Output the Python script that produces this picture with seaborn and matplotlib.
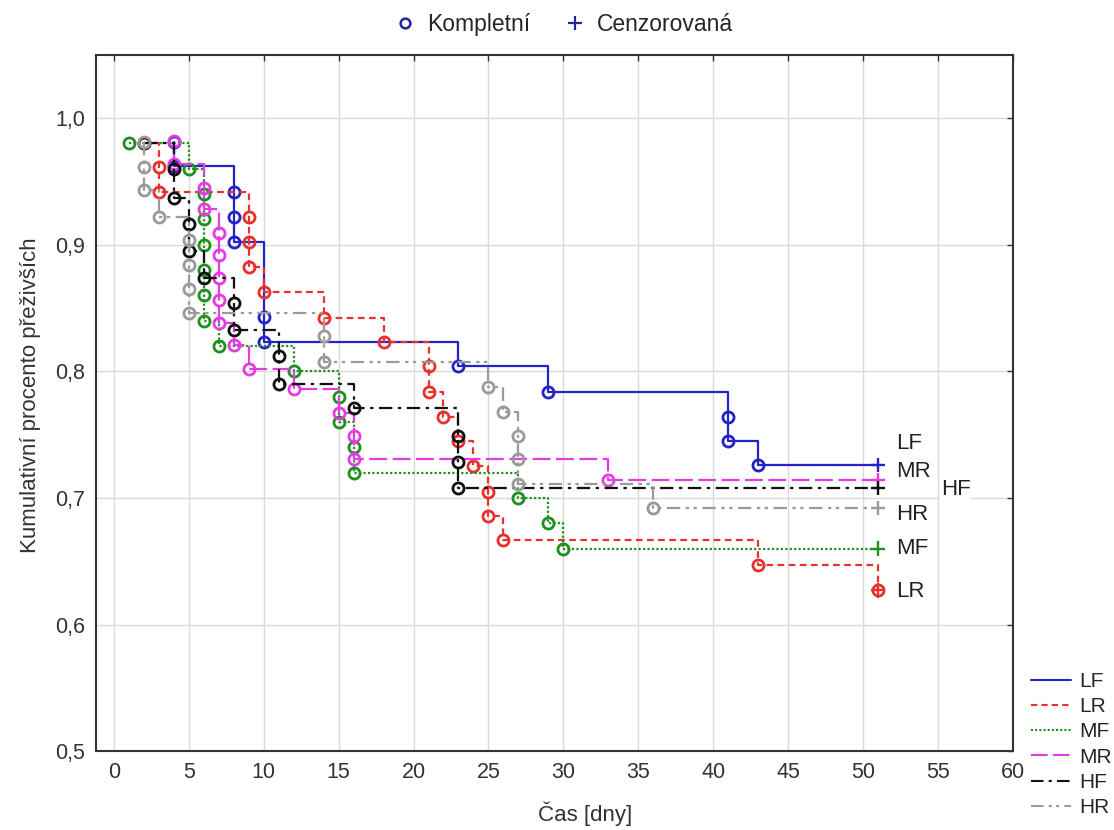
import matplotlib
matplotlib.use("Agg")
import matplotlib.pyplot as plt
from matplotlib.lines import Line2D
import seaborn as sns
import pandas as pd

groups = ["LF", "LR", "MF", "MR", "HF", "HR"]

# event times [days] and survival right after each event
lf_t = [4, 4, 8, 8, 8, 10, 10, 23, 29, 41, 41, 43]
lf_s = [0.981, 0.962, 0.942, 0.922, 0.902, 0.843, 0.823, 0.804, 0.784, 0.764, 0.745, 0.726]

lr_t = [2, 3, 3, 9, 9, 9, 10, 14, 18, 21, 21, 22, 23, 24, 25, 25, 26, 43, 51]
lr_s = [0.980, 0.961, 0.942, 0.922, 0.902, 0.882, 0.863, 0.842, 0.823, 0.804, 0.784,
        0.764, 0.745, 0.725, 0.705, 0.686, 0.667, 0.647, 0.627]

mf_t = [1, 5, 6, 6, 6, 6, 6, 6, 7, 12, 15, 15, 16, 16, 27, 29, 30]
mf_s = [0.980, 0.960, 0.940, 0.920, 0.900, 0.880, 0.860, 0.840, 0.820, 0.800, 0.780,
        0.760, 0.740, 0.720, 0.700, 0.680, 0.660]

mr_t = [4, 4, 6, 6, 7, 7, 7, 7, 7, 8, 9, 12, 15, 16, 16, 33]
mr_s = [0.982, 0.964, 0.945, 0.928, 0.909, 0.892, 0.874, 0.856, 0.838, 0.821, 0.802,
        0.786, 0.767, 0.749, 0.731, 0.714]

hf_t = [2, 4, 4, 5, 5, 6, 8, 8, 11, 11, 16, 23, 23, 23]
hf_s = [0.980, 0.960, 0.937, 0.916, 0.895, 0.874, 0.854, 0.833, 0.812, 0.790, 0.771,
        0.749, 0.728, 0.708]

hr_t = [2, 2, 2, 3, 5, 5, 5, 5, 14, 14, 25, 26, 27, 27, 27, 36]
hr_s = [0.981, 0.961, 0.943, 0.922, 0.904, 0.884, 0.865, 0.846, 0.828, 0.807, 0.788,
        0.768, 0.749, 0.731, 0.711, 0.692]

censor_time = 51

events = {"LF": (lf_t, lf_s), "LR": (lr_t, lr_s), "MF": (mf_t, mf_s),
          "MR": (mr_t, mr_s), "HF": (hf_t, hf_s), "HR": (hr_t, hr_s)}

x_ticks = list(range(0, 61, 5))
y_ticks = [0.5, 0.6, 0.7, 0.8, 0.9, 1.0]
y_tick_labels = ["0,5", "0,6", "0,7", "0,8", "0,9", "1,0"]

# styling
colors = {"LF": "#2323c8", "LR": "#e8302c", "MF": "#1e901e",
          "MR": "#e23ce2", "HF": "#111111", "HR": "#9a9a9a"}
dashes = {"LF": "", "LR": (3, 2), "MF": (1, 1), "MR": (8, 2.5),
          "HF": (6, 2.5, 1.5, 2.5), "HR": (6, 2.5, 1.5, 2, 1.5, 2.5)}
label_pos = {"LF": (52.2, 0.743), "MR": (52.2, 0.721), "HF": (55.2, 0.707),
             "HR": (52.2, 0.687), "MF": (52.2, 0.660), "LR": (52.2, 0.626)}

sns.set_theme(style="whitegrid")
plt.rcParams["font.family"] = ["Liberation Sans", "DejaVu Sans"]

fig, ax = plt.subplots(figsize=(11.14, 8.3), dpi=100)
fig.subplots_adjust(left=0.0862, right=0.909, top=0.934, bottom=0.095)

cens_rows = []
for g in groups:
    t, s = events[g]
    xs = t + [censor_time]
    ys = s + [s[-1]]
    df = pd.DataFrame({"t": xs, "s": ys})
    sns.lineplot(data=df, x="t", y="s", ax=ax, estimator=None, sort=False,
                 drawstyle="steps-post", color=colors[g], lw=1.6,
                 linestyle=(0, dashes[g]) if dashes[g] else "-",
                 marker="o", markevery=list(range(len(t))), markersize=8,
                 markerfacecolor="none", markeredgecolor=colors[g],
                 markeredgewidth=2)
    cens_rows.append({"t": censor_time, "s": s[-1], "group": g})

cens = pd.DataFrame(cens_rows)
sns.scatterplot(data=cens, x="t", y="s", hue="group", palette=colors, marker="+",
                s=110, linewidth=1.7, ax=ax, legend=False, zorder=5)

for g, (lx, ly) in label_pos.items():
    ax.text(lx, ly, g, fontsize=16, va="center", ha="left", color="#222222",
            bbox=dict(facecolor="white", edgecolor="none", pad=0.5))

ax.set_xlim(-1.2, 60)
ax.set_ylim(0.5, 1.05)
ax.set_xticks(x_ticks)
ax.set_yticks(y_ticks)
ax.set_yticklabels(y_tick_labels)
ax.tick_params(axis="both", labelsize=15.5, direction="in", length=4, width=1,
               top=True, right=True, colors="#333333", labelcolor="#333333", pad=8)
ax.grid(True, color="#d9d9d9", lw=1)
for sp in ax.spines.values():
    sp.set_color("#333333")
    sp.set_linewidth(1.5)

ax.set_xlabel("Čas [dny]", fontsize=16, color="#333333")
ax.set_ylabel("Kumulativní procento přeživších", fontsize=16, color="#333333")
ax.xaxis.set_label_coords(0.534, -0.072)
ax.yaxis.set_label_coords(-0.06, 0.511)

# top legend with the marker meaning
top_handles = [Line2D([], [], ls="none", marker="o", markersize=7, markerfacecolor="none",
                      markeredgecolor="#2323a0", markeredgewidth=1.8),
               Line2D([], [], ls="none", marker="+", markersize=10,
                      markeredgecolor="#2323a0", markeredgewidth=1.6)]
fig.legend(top_handles, ["Kompletní", "Cenzorovaná"], loc="center", ncol=2,
           bbox_to_anchor=(0.503, 0.97), frameon=False, fontsize=16.5,
           handletextpad=0.2, columnspacing=1.2, handlelength=1.5)

# line legend bottom right
line_handles = [Line2D([], [], color=colors[g], lw=1.5,
                       linestyle=(0, dashes[g]) if dashes[g] else "-") for g in groups]
fig.legend(line_handles, groups, loc="center left", bbox_to_anchor=(0.918, 0.103),
           frameon=False, fontsize=15, handlelength=1.9, handletextpad=0.4,
           labelspacing=0.3, borderaxespad=0)

fig.savefig("out.png", dpi=100)
